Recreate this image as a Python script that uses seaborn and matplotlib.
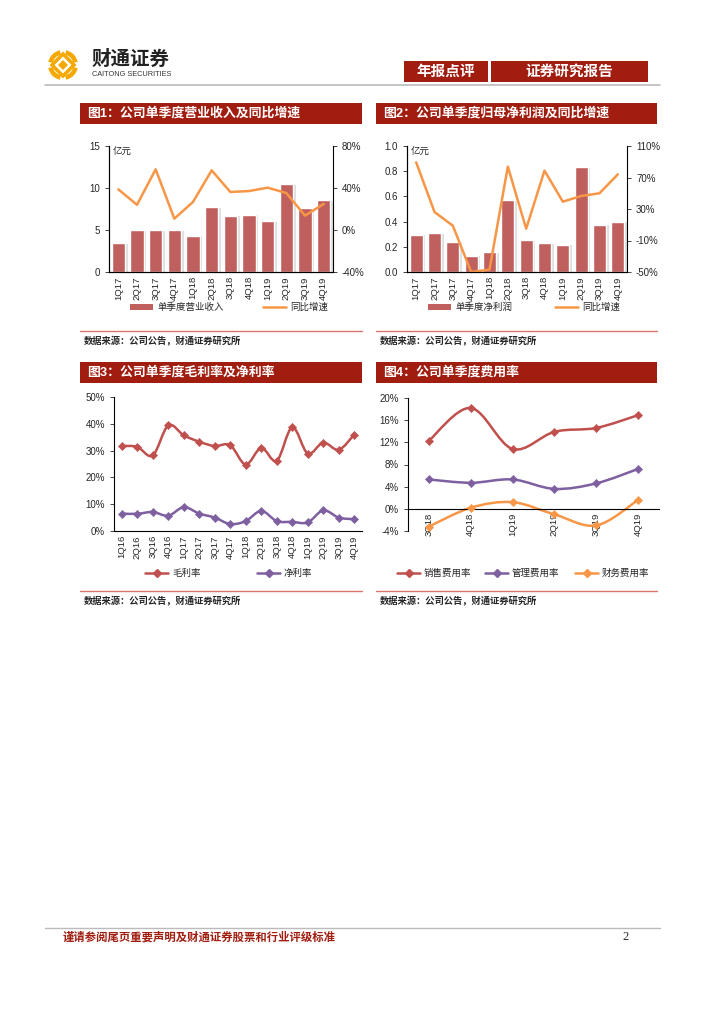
import numpy as np
import matplotlib
matplotlib.use("Agg")
import matplotlib.pyplot as plt
import matplotlib.patches as mpatches
import matplotlib.patheffects as pe
from matplotlib.path import Path
from matplotlib.ticker import FuncFormatter
import seaborn as sns

# ---- data ----
quarters_12 = ['1Q17', '2Q17', '3Q17', '4Q17', '1Q18', '2Q18',
               '3Q18', '4Q18', '1Q19', '2Q19', '3Q19', '4Q19']
revenue = [3.45, 4.95, 4.95, 4.95, 4.33, 7.70, 6.70, 6.83, 6.07, 10.44, 7.58, 8.57]
revenue_yoy = [38.7, 24.0, 57.8, 10.8, 26.7, 56.8, 36.2, 37.1, 40.3, 35.2, 13.7, 24.8]
net_profit = [0.296, 0.310, 0.238, 0.130, 0.159, 0.571, 0.254, 0.230, 0.217, 0.830, 0.376, 0.400]
profit_yoy = [89.3, 26.2, 8.8, -50.0, -47.0, 83.8, 5.0, 78.7, 39.3, 46.5, 50.0, 74.0]

quarters_16 = ['1Q16', '2Q16', '3Q16', '4Q16', '1Q17', '2Q17', '3Q17', '4Q17',
               '1Q18', '2Q18', '3Q18', '4Q18', '1Q19', '2Q19', '3Q19', '4Q19']
gross_margin = [31.7, 31.4, 28.2, 39.4, 35.7, 33.3, 31.7, 32.0,
                24.8, 31.0, 26.2, 38.7, 28.9, 33.0, 30.3, 36.0]
net_margin = [6.5, 6.4, 7.1, 5.7, 8.9, 6.5, 5.0, 2.6,
              3.7, 7.5, 3.7, 3.4, 3.2, 7.7, 5.0, 4.4]

quarters_6 = ['3Q18', '4Q18', '1Q19', '2Q19', '3Q19', '4Q19']
selling_rate = [12.3, 18.2, 10.8, 13.9, 14.6, 16.9]
admin_rate = [5.3, 4.7, 5.3, 3.6, 4.6, 7.2]
finance_rate = [-3.2, 0.2, 1.2, -1.0, -3.0, 1.6]

# ---- styling ----
DARK_RED = '#A01D10'
BAR_RED = '#C0605E'
RED = '#C0504D'
PURPLE = '#7E5FA0'
ORANGE = '#F79646'

sns.set_style('white')
plt.rcParams['font.family'] = ['Liberation Sans', 'Noto Sans CJK SC', 'DejaVu Sans']
plt.rcParams['axes.linewidth'] = 0.8

W, H = 724, 1024
fig = plt.figure(figsize=(7.24, 10.24), dpi=100)


def box(x0, y0, x1, y1):
    """pixel box (top-left origin) -> figure fraction rect"""
    return [x0 / W, 1 - y1 / H, (x1 - x0) / W, (y1 - y0) / H]


# page-level drawing layer in pixel coordinates
page = fig.add_axes([0, 0, 1, 1], zorder=-5)
page.set_xlim(0, W)
page.set_ylim(H, 0)
page.axis('off')

# logo
cx, cy = 63, 65
for a in [0, 90, 180, 270]:
    page.add_patch(mpatches.Wedge((cx, cy), 15, a + 12, a + 78, width=4.5,
                                  color='#F5A800', lw=0))
page.add_patch(mpatches.Polygon([(cx, cy - 11), (cx + 11, cy), (cx, cy + 11), (cx - 11, cy)],
                                closed=True, fc='white', ec='#F5A800', lw=2.5))
page.add_patch(mpatches.Polygon([(cx, cy - 5), (cx + 5, cy), (cx, cy + 5), (cx - 5, cy)],
                                closed=True, fc='#F5A800', ec='none'))
page.text(92, 59, '财通证券', fontsize=14, fontweight='bold', va='center', ha='left',
          color='#222222')
page.text(92, 75, 'CAITONG SECURITIES', fontsize=5.3, va='center', ha='left', color='#333333')

# header boxes
page.add_patch(mpatches.Rectangle((404, 61), 84, 21, fc=DARK_RED, ec='none'))
page.add_patch(mpatches.Rectangle((491, 61), 157, 21, fc=DARK_RED, ec='none'))
page.text(446, 71.5, '年报点评', fontsize=10.5, fontweight='bold', color='white',
          ha='center', va='center')
page.text(569, 71.5, '证券研究报告', fontsize=10.5, fontweight='bold', color='white',
          ha='center', va='center')
page.plot([45, 660], [84.5, 84.5], color='#BBBBBB', lw=1.2)

# footer
page.plot([45, 660], [928, 928], color='#BBBBBB', lw=1.0)
page.text(63, 937, '谨请参阅尾页重要声明及财通证券股票和行业评级标准', fontsize=8.2,
          fontweight='bold', color=DARK_RED, ha='left', va='center')
page.text(626, 937, '2', fontsize=9, family='Liberation Serif', ha='center', va='center')


def title_bar(x0, x1, y0, text):
    page.add_patch(mpatches.Rectangle((x0, y0), x1 - x0, 21, fc=DARK_RED, ec='none'))
    page.text(x0 + 7, y0 + 10.5, text, fontsize=9.3, fontweight='bold', color='white',
              ha='left', va='center')


def source_note(x0, x1, y):
    page.plot([x0, x1], [y, y], color='#D8766C', lw=1.0)
    page.text(x0 + 4, y + 10, '数据来源：公司公告，财通证券研究所', fontsize=6.7,
              fontweight='bold', ha='left', va='center')


def legend_patch(x, y, label, color):
    page.add_patch(mpatches.Rectangle((x, y - 3), 23, 6, fc=color, ec='none'))
    page.text(x + 27, y, label, fontsize=6.8, ha='left', va='center')


def legend_line(x, y, label, color, marker=None):
    page.plot([x, x + 23], [y, y], color=color, lw=1.8)
    if marker:
        page.plot([x + 11.5], [y], marker=marker, color=color, ms=4)
    page.text(x + 27, y, label, fontsize=6.8, ha='left', va='center')


def smooth_path(xs, ys):
    """Bezier curve through the points (Excel-style smoothed line)."""
    pts = np.column_stack([xs, ys]).astype(float)
    n = len(pts)
    verts = [pts[0]]
    codes = [Path.MOVETO]
    for i in range(n - 1):
        p0 = pts[i - 1] if i > 0 else pts[i]
        p1, p2 = pts[i], pts[i + 1]
        p3 = pts[i + 2] if i + 2 < n else pts[i + 1]
        verts += [p1 + (p2 - p0) / 6, p2 - (p3 - p1) / 6, p2]
        codes += [Path.CURVE4] * 3
    return Path(verts, codes)


def cat_ticks(ax, labels, minor_dir='out'):
    n = len(labels)
    ax.set_xlim(-0.5, n - 0.5)
    ax.set_xticks(np.arange(n))
    ax.set_xticklabels(labels, rotation=90, fontsize=6.8)
    ax.set_xticks(np.arange(n + 1) - 0.5, minor=True)
    ax.tick_params(axis='x', which='major', length=0, pad=3)
    ax.tick_params(axis='x', which='minor', length=3, width=0.6, direction=minor_dir)
    ax.set_xlabel('')


pct = FuncFormatter(lambda v, p: f'{v:.0f}%')


def bar_line_chart(rect, values, growth, ylim, yticks, yfmt, rlim, rticks):
    ax = fig.add_axes(rect)
    sns.barplot(x=np.arange(len(values)), y=values, ax=ax, color=BAR_RED,
                saturation=1, width=0.7, zorder=2)
    for p in ax.patches:
        p.set_path_effects([pe.SimplePatchShadow(offset=(2, -0.5), shadow_rgbFace='#C8C8C8',
                                                 alpha=0.6), pe.Normal()])
    ax.set_ylim(*ylim)
    ax.set_yticks(yticks)
    ax.yaxis.set_major_formatter(FuncFormatter(yfmt))
    ax.tick_params(axis='y', labelsize=7, length=3, width=0.6, direction='out', left=True)
    cat_ticks(ax, quarters_12)
    ax.set_ylabel('')
    ax2 = ax.twinx()
    sns.lineplot(x=np.arange(len(growth)), y=growth, ax=ax2, color=ORANGE, lw=1.8,
                 clip_on=False)
    ax2.set_ylim(*rlim)
    ax2.set_yticks(rticks)
    ax2.yaxis.set_major_formatter(pct)
    ax2.tick_params(axis='y', labelsize=7, length=3, width=0.6, direction='out', right=True)
    ax2.set_ylabel('')
    ax.set_xlim(-0.5, len(values) - 0.5)
    for a in (ax, ax2):
        a.spines['top'].set_visible(False)
        for s in a.spines.values():
            s.set_color('black')
    ax.spines['right'].set_visible(False)
    ax.text(0.015, 0.985, '亿元', transform=ax.transAxes, fontsize=6.8, ha='left', va='top')
    return ax, ax2


# ---- 图1 ----
title_bar(80, 362, 103, '图1：公司单季度营业收入及同比增速')
bar_line_chart(box(109, 146, 333, 272), revenue, revenue_yoy, (0, 15), [0, 5, 10, 15],
               lambda v, p: f'{v:.0f}', (-40, 80), [-40, 0, 40, 80])
legend_patch(130, 307, '单季度营业收入', BAR_RED)
legend_line(263, 307, '同比增速', ORANGE)
source_note(80, 362, 331)

# ---- 图2 ----
title_bar(376, 657, 103, '图2：公司单季度归母净利润及同比增速')
bar_line_chart(box(407, 146, 627, 272), net_profit, profit_yoy, (0, 1.0),
               [0, 0.2, 0.4, 0.6, 0.8, 1.0], lambda v, p: f'{v:.1f}',
               (-50, 110), [-50, -10, 30, 70, 110])
legend_patch(428, 307, '单季度净利润', BAR_RED)
legend_line(555, 307, '同比增速', ORANGE)
source_note(376, 657, 331)

# ---- 图3 ----
title_bar(80, 362, 362, '图3：公司单季度毛利率及净利率')
ax3 = fig.add_axes(box(114, 397, 362, 531))
x16 = np.arange(len(quarters_16))
for vals, col in [(gross_margin, RED), (net_margin, PURPLE)]:
    ax3.add_patch(mpatches.PathPatch(smooth_path(x16, vals), fill=False, ec=col, lw=1.8,
                                     zorder=2))
    sns.scatterplot(x=x16, y=vals, ax=ax3, marker='D', color=col, s=18, edgecolor=col,
                    zorder=3)
ax3.set_ylim(0, 50)
ax3.set_yticks([0, 10, 20, 30, 40, 50])
ax3.yaxis.set_major_formatter(pct)
ax3.tick_params(axis='y', labelsize=7, length=3, width=0.6, direction='out', left=True)
cat_ticks(ax3, quarters_16)
ax3.set_ylabel('')
ax3.spines['top'].set_visible(False)
ax3.spines['right'].set_visible(False)
for s in ax3.spines.values():
    s.set_color('black')
legend_line(145, 573, '毛利率', RED, 'D')
legend_line(257, 573, '净利率', PURPLE, 'D')
source_note(80, 362, 591)

# ---- 图4 ----
title_bar(376, 657, 362, '图4：公司单季度费用率')
ax4 = fig.add_axes(box(408, 398, 659, 531))
ax4.spines['bottom'].set_position(('data', 0))
x6 = np.arange(len(quarters_6))
for vals, col in [(selling_rate, RED), (admin_rate, PURPLE), (finance_rate, ORANGE)]:
    ax4.add_patch(mpatches.PathPatch(smooth_path(x6, vals), fill=False, ec=col, lw=1.8,
                                     zorder=2))
    sns.scatterplot(x=x6, y=vals, ax=ax4, marker='D', color=col, s=18, edgecolor=col,
                    zorder=3)
ax4.set_ylim(-4, 20)
ax4.set_yticks([-4, 0, 4, 8, 12, 16, 20])
ax4.yaxis.set_major_formatter(pct)
ax4.tick_params(axis='y', labelsize=7, length=3, width=0.6, direction='out', left=True)
cat_ticks(ax4, quarters_6, minor_dir='in')
ax4.set_ylabel('')
ax4.spines['top'].set_visible(False)
ax4.spines['right'].set_visible(False)
for s in ax4.spines.values():
    s.set_color('black')
legend_line(397, 573, '销售费用率', RED, 'D')
legend_line(485, 573, '管理费用率', PURPLE, 'D')
legend_line(575, 573, '财务费用率', ORANGE, 'D')
source_note(376, 657, 591)

fig.savefig('out.png', dpi=100)
